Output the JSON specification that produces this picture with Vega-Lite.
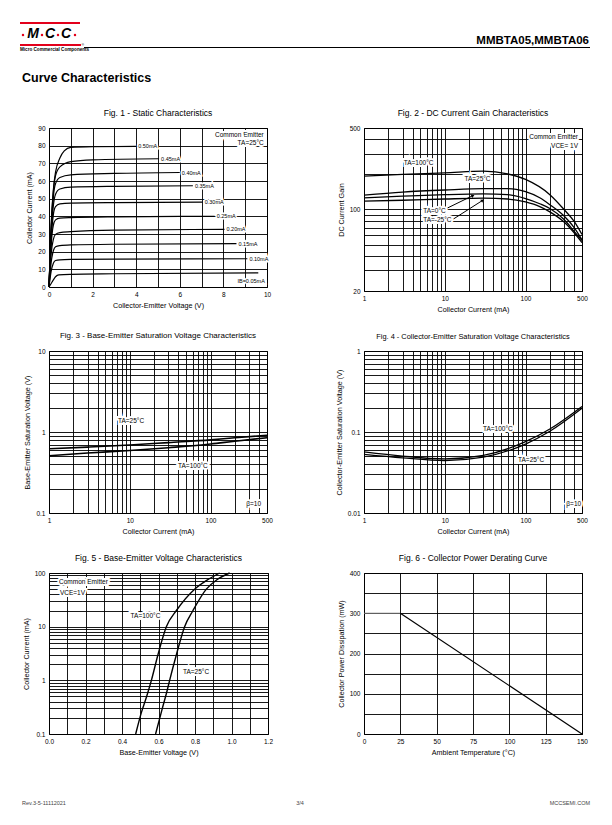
{
"$schema":"https://vega.github.io/schema/vega-lite/v6.json",
"background":"white",
"padding":0,
"columns":2,
"align":"each",
"spacing":{"row":60,"column":96},
"bounds":"flush",
"config":{
 "font":"Liberation Sans",
 "view":{"stroke":"#000","strokeWidth":1},
 "axis":{"grid":true,"gridColor":"#000","gridOpacity":1,"gridWidth":0.9,"domain":false,"ticks":false,"labelFontSize":6.5,"labelColor":"#000","labelPadding":4,"labelFlush":false,"labelOverlap":false,"titleFontSize":7.2,"titleFontWeight":"normal","titleColor":"#000","titlePadding":4},
 "title":{"fontSize":8.5,"fontWeight":"normal","color":"#000","offset":8,"anchor":"middle"},
 "text":{"color":"#000"}
},
"concat":[
 {
  "width":218,"height":68,"view":{"stroke":null},
  "data":{"values":[{}]},
  "layer":[
   {"mark":{"type":"rule","color":"#fff","opacity":0},"encoding":{"x":{"datum":0,"type":"quantitative","scale":{"domain":[49,267],"nice":false,"zero":false},"axis":null},"x2":{"datum":612},"y":{"datum":0,"type":"quantitative","scale":{"domain":[0,68],"reverse":true,"nice":false,"zero":false},"axis":null}}},
   {"mark":{"type":"rule","color":"#e3001b","strokeWidth":1.8},"encoding":{"x":{"datum":20,"type":"quantitative","scale":{"domain":[49,267],"nice":false,"zero":false},"axis":null},"x2":{"datum":80},"y":{"datum":23,"type":"quantitative","scale":{"domain":[0,68],"reverse":true,"nice":false,"zero":false},"axis":null}}},
   {"mark":{"type":"rule","color":"#e3001b","strokeWidth":1.8},"encoding":{"x":{"datum":20,"type":"quantitative","scale":{"domain":[49,267],"nice":false,"zero":false},"axis":null},"x2":{"datum":81},"y":{"datum":45,"type":"quantitative","scale":{"domain":[0,68],"reverse":true,"nice":false,"zero":false},"axis":null}}},
   {"mark":{"type":"text","fontSize":14,"fontWeight":"bold","fontStyle":"italic","align":"center","baseline":"middle","color":"#000"},"encoding":{"x":{"datum":33,"type":"quantitative","scale":{"domain":[49,267],"nice":false,"zero":false},"axis":null},"y":{"datum":34,"type":"quantitative","scale":{"domain":[0,68],"reverse":true,"nice":false,"zero":false},"axis":null},"text":{"value":"M"}}},
   {"mark":{"type":"text","fontSize":14,"fontWeight":"bold","fontStyle":"italic","align":"center","baseline":"middle","color":"#000"},"encoding":{"x":{"datum":50,"type":"quantitative","scale":{"domain":[49,267],"nice":false,"zero":false},"axis":null},"y":{"datum":34,"type":"quantitative","scale":{"domain":[0,68],"reverse":true,"nice":false,"zero":false},"axis":null},"text":{"value":"C"}}},
   {"mark":{"type":"text","fontSize":14,"fontWeight":"bold","fontStyle":"italic","align":"center","baseline":"middle","color":"#000"},"encoding":{"x":{"datum":66,"type":"quantitative","scale":{"domain":[49,267],"nice":false,"zero":false},"axis":null},"y":{"datum":34,"type":"quantitative","scale":{"domain":[0,68],"reverse":true,"nice":false,"zero":false},"axis":null},"text":{"value":"C"}}},
   {"mark":{"type":"circle","color":"#e3001b","size":6,"opacity":1},"encoding":{"x":{"datum":23,"type":"quantitative","scale":{"domain":[49,267],"nice":false,"zero":false},"axis":null},"y":{"datum":35,"type":"quantitative","scale":{"domain":[0,68],"reverse":true,"nice":false,"zero":false},"axis":null}}},
   {"mark":{"type":"circle","color":"#e3001b","size":6,"opacity":1},"encoding":{"x":{"datum":42,"type":"quantitative","scale":{"domain":[49,267],"nice":false,"zero":false},"axis":null},"y":{"datum":35,"type":"quantitative","scale":{"domain":[0,68],"reverse":true,"nice":false,"zero":false},"axis":null}}},
   {"mark":{"type":"circle","color":"#e3001b","size":6,"opacity":1},"encoding":{"x":{"datum":58,"type":"quantitative","scale":{"domain":[49,267],"nice":false,"zero":false},"axis":null},"y":{"datum":35,"type":"quantitative","scale":{"domain":[0,68],"reverse":true,"nice":false,"zero":false},"axis":null}}},
   {"mark":{"type":"circle","color":"#e3001b","size":6,"opacity":1},"encoding":{"x":{"datum":75,"type":"quantitative","scale":{"domain":[49,267],"nice":false,"zero":false},"axis":null},"y":{"datum":35,"type":"quantitative","scale":{"domain":[0,68],"reverse":true,"nice":false,"zero":false},"axis":null}}},
   {"mark":{"type":"text","fontSize":4.6,"fontWeight":"bold","align":"left","baseline":"middle","color":"#000"},"encoding":{"x":{"datum":20,"type":"quantitative","scale":{"domain":[49,267],"nice":false,"zero":false},"axis":null},"y":{"datum":49.5,"type":"quantitative","scale":{"domain":[0,68],"reverse":true,"nice":false,"zero":false},"axis":null},"text":{"value":"Micro Commercial Components"}}},
   {"mark":{"type":"text","fontSize":3.5,"align":"left","baseline":"middle","color":"#000"},"encoding":{"x":{"datum":81.5,"type":"quantitative","scale":{"domain":[49,267],"nice":false,"zero":false},"axis":null},"y":{"datum":45,"type":"quantitative","scale":{"domain":[0,68],"reverse":true,"nice":false,"zero":false},"axis":null},"text":{"value":"®"}}},
   {"mark":{"type":"rule","color":"#000","strokeWidth":1},"encoding":{"x":{"datum":84,"type":"quantitative","scale":{"domain":[49,267],"nice":false,"zero":false},"axis":null},"x2":{"datum":590},"y":{"datum":47.5,"type":"quantitative","scale":{"domain":[0,68],"reverse":true,"nice":false,"zero":false},"axis":null}}},
   {"mark":{"type":"text","fontSize":11.5,"fontWeight":"bold","align":"right","baseline":"middle","color":"#000"},"encoding":{"x":{"datum":589,"type":"quantitative","scale":{"domain":[49,267],"nice":false,"zero":false},"axis":null},"y":{"datum":41,"type":"quantitative","scale":{"domain":[0,68],"reverse":true,"nice":false,"zero":false},"axis":null},"text":{"value":"MMBTA05,MMBTA06"}}},
   {"mark":{"type":"text","fontSize":12.5,"fontWeight":"bold","align":"left","baseline":"middle","color":"#000"},"encoding":{"x":{"datum":22,"type":"quantitative","scale":{"domain":[49,267],"nice":false,"zero":false},"axis":null},"y":{"datum":78,"type":"quantitative","scale":{"domain":[0,68],"reverse":true,"nice":false,"zero":false},"axis":null},"text":{"value":"Curve Characteristics"}}}
  ]
 },
 {"width":218,"height":68,"view":{"stroke":null},"data":{"values":[]},"mark":"point"},
 {
  "width":218,"height":159,
  "title":"Fig. 1 - Static Characteristics",
  "data":{"values":[
   {"ib":"0.50mA","vce":0,"ic":0},{"ib":"0.50mA","vce":0.1,"ic":35},{"ib":"0.50mA","vce":0.2,"ic":55},{"ib":"0.50mA","vce":0.3,"ic":65},{"ib":"0.50mA","vce":0.5,"ic":73},{"ib":"0.50mA","vce":0.7,"ic":77},{"ib":"0.50mA","vce":1,"ic":79},{"ib":"0.50mA","vce":2,"ic":79.4},{"ib":"0.50mA","vce":4,"ic":79.6},
   {"ib":"0.45mA","vce":0,"ic":0},{"ib":"0.45mA","vce":0.1,"ic":34},{"ib":"0.45mA","vce":0.2,"ic":54},{"ib":"0.45mA","vce":0.3,"ic":63},{"ib":"0.45mA","vce":0.5,"ic":68},{"ib":"0.45mA","vce":1,"ic":71},{"ib":"0.45mA","vce":2,"ic":72},{"ib":"0.45mA","vce":5.05,"ic":72.6},
   {"ib":"0.40mA","vce":0,"ic":0},{"ib":"0.40mA","vce":0.1,"ic":32},{"ib":"0.40mA","vce":0.2,"ic":51},{"ib":"0.40mA","vce":0.3,"ic":58.5},{"ib":"0.40mA","vce":0.5,"ic":62},{"ib":"0.40mA","vce":1,"ic":63.5},{"ib":"0.40mA","vce":3,"ic":64.3},{"ib":"0.40mA","vce":6,"ic":64.8},
   {"ib":"0.35mA","vce":0,"ic":0},{"ib":"0.35mA","vce":0.1,"ic":30},{"ib":"0.35mA","vce":0.2,"ic":46},{"ib":"0.35mA","vce":0.3,"ic":52.5},{"ib":"0.35mA","vce":0.5,"ic":55.5},{"ib":"0.35mA","vce":1,"ic":56.5},{"ib":"0.35mA","vce":3,"ic":57},{"ib":"0.35mA","vce":6.6,"ic":57.3},
   {"ib":"0.30mA","vce":0,"ic":0},{"ib":"0.30mA","vce":0.1,"ic":27},{"ib":"0.30mA","vce":0.2,"ic":41},{"ib":"0.30mA","vce":0.3,"ic":45.5},{"ib":"0.30mA","vce":0.5,"ic":47},{"ib":"0.30mA","vce":1,"ic":47.5},{"ib":"0.30mA","vce":3,"ic":47.8},{"ib":"0.30mA","vce":7.05,"ic":48},
   {"ib":"0.25mA","vce":0,"ic":0},{"ib":"0.25mA","vce":0.1,"ic":24},{"ib":"0.25mA","vce":0.2,"ic":35},{"ib":"0.25mA","vce":0.3,"ic":38},{"ib":"0.25mA","vce":0.5,"ic":39},{"ib":"0.25mA","vce":1,"ic":39.3},{"ib":"0.25mA","vce":3,"ic":39.7},{"ib":"0.25mA","vce":7.6,"ic":40},
   {"ib":"0.20mA","vce":0,"ic":0},{"ib":"0.20mA","vce":0.1,"ic":19},{"ib":"0.20mA","vce":0.2,"ic":27},{"ib":"0.20mA","vce":0.3,"ic":29.8},{"ib":"0.20mA","vce":0.5,"ic":30.8},{"ib":"0.20mA","vce":1,"ic":31.3},{"ib":"0.20mA","vce":3,"ic":32.2},{"ib":"0.20mA","vce":8.05,"ic":32.6},
   {"ib":"0.15mA","vce":0,"ic":0},{"ib":"0.15mA","vce":0.1,"ic":14},{"ib":"0.15mA","vce":0.2,"ic":20.5},{"ib":"0.15mA","vce":0.3,"ic":22.8},{"ib":"0.15mA","vce":0.5,"ic":23.4},{"ib":"0.15mA","vce":1,"ic":23.8},{"ib":"0.15mA","vce":3,"ic":24.2},{"ib":"0.15mA","vce":8.6,"ic":24.5},
   {"ib":"0.10mA","vce":0,"ic":0},{"ib":"0.10mA","vce":0.1,"ic":9},{"ib":"0.10mA","vce":0.2,"ic":13.5},{"ib":"0.10mA","vce":0.3,"ic":15},{"ib":"0.10mA","vce":0.5,"ic":15.4},{"ib":"0.10mA","vce":1,"ic":15.6},{"ib":"0.10mA","vce":3,"ic":15.8},{"ib":"0.10mA","vce":9.1,"ic":16},
   {"ib":"0.05mA","vce":0,"ic":0},{"ib":"0.05mA","vce":0.1,"ic":2},{"ib":"0.05mA","vce":0.2,"ic":4},{"ib":"0.05mA","vce":0.3,"ic":5.8},{"ib":"0.05mA","vce":0.45,"ic":6.9},{"ib":"0.05mA","vce":1,"ic":7.2},{"ib":"0.05mA","vce":3,"ic":7.5},{"ib":"0.05mA","vce":9.6,"ic":8}
  ]},
  "layer":[
   {"mark":{"type":"line","color":"#000","strokeWidth":1.2,"interpolate":"monotone"},
    "encoding":{
     "x":{"field":"vce","type":"quantitative","scale":{"domain":[0,10],"nice":false},"axis":{"title":"Collector-Emitter Voltage (V)","format":"d","tickCount":11,"values":[0,1,2,3,4,5,6,7,8,9,10],"labelExpr":"datum.value % 2 == 0 ? datum.label : ''"}},
     "y":{"field":"ic","type":"quantitative","scale":{"domain":[0,90],"nice":false},"axis":{"title":"Collector Current (mA)","format":"d","tickCount":10,"values":[0,10,20,30,40,50,60,70,80,90]}},
     "detail":{"field":"ib"}}},
   {"transform":[{"filter":"datum.ib != '0.05mA'"},{"joinaggregate":[{"op":"max","field":"vce","as":"vmax"}],"groupby":["ib"]},{"filter":"datum.vce == datum.vmax"}],
    "encoding":{"x":{"field":"vce","type":"quantitative"},"y":{"field":"ic","type":"quantitative"},"text":{"field":"ib"}},
    "layer":[
     {"mark":{"type":"text","align":"left","baseline":"middle","dx":2,"fontSize":5.5,"stroke":"#fff","strokeWidth":3,"color":"#000"}},
     {"mark":{"type":"text","align":"left","baseline":"middle","dx":2,"fontSize":5.5,"color":"#000"}}]},
   {"data":{"values":[{}]},"encoding":{"x":{"datum":9.9,"type":"quantitative"},"y":{"datum":3.6,"type":"quantitative"},"text":{"value":"IB=0.05mA"}},
    "layer":[{"mark":{"type":"text","align":"right","baseline":"middle","fontSize":5.5,"stroke":"#fff","strokeWidth":3,"color":"#000"}},{"mark":{"type":"text","align":"right","baseline":"middle","fontSize":5.5,"color":"#000"}}]},
   {"data":{"values":[{}]},"encoding":{"x":{"datum":9.85,"type":"quantitative"},"y":{"datum":86.3,"type":"quantitative"},"text":{"value":"Common Emitter"}},
    "layer":[{"mark":{"type":"text","align":"right","baseline":"middle","fontSize":6.5,"stroke":"#fff","strokeWidth":4,"color":"#000"}},{"mark":{"type":"text","align":"right","baseline":"middle","fontSize":6.5,"color":"#000"}}]},
   {"data":{"values":[{}]},"encoding":{"x":{"datum":9.85,"type":"quantitative"},"y":{"datum":81.3,"type":"quantitative"},"text":{"value":"TA=25°C"}},
    "layer":[{"mark":{"type":"text","align":"right","baseline":"middle","fontSize":6.5,"stroke":"#fff","strokeWidth":4,"color":"#000"}},{"mark":{"type":"text","align":"right","baseline":"middle","fontSize":6.5,"color":"#000"}}]}
  ]
 },
 {
  "width":218,"height":163,
  "title":"Fig. 2 - DC Current Gain Characteristics",
  "data":{"values":[
   {"t":"100°C","ic":1,"h":193},{"t":"100°C","ic":3,"h":200},{"t":"100°C","ic":10,"h":206},{"t":"100°C","ic":30,"h":213},{"t":"100°C","ic":60,"h":202},{"t":"100°C","ic":100,"h":181},{"t":"100°C","ic":200,"h":134},{"t":"100°C","ic":300,"h":100},{"t":"100°C","ic":400,"h":79},{"t":"100°C","ic":500,"h":61},
   {"t":"25°C","ic":1,"h":133},{"t":"25°C","ic":3,"h":141},{"t":"25°C","ic":10,"h":147},{"t":"25°C","ic":30,"h":151},{"t":"25°C","ic":60,"h":151},{"t":"25°C","ic":100,"h":142},{"t":"25°C","ic":150,"h":126},{"t":"25°C","ic":200,"h":110},{"t":"25°C","ic":300,"h":88},{"t":"25°C","ic":400,"h":70},{"t":"25°C","ic":500,"h":55},
   {"t":"0°C","ic":1,"h":126},{"t":"0°C","ic":3,"h":130},{"t":"0°C","ic":10,"h":134},{"t":"0°C","ic":30,"h":136},{"t":"0°C","ic":60,"h":134},{"t":"0°C","ic":100,"h":124},{"t":"0°C","ic":150,"h":112},{"t":"0°C","ic":200,"h":102},{"t":"0°C","ic":300,"h":82},{"t":"0°C","ic":400,"h":65},{"t":"0°C","ic":500,"h":54},
   {"t":"-25°C","ic":1,"h":118},{"t":"-25°C","ic":3,"h":120},{"t":"-25°C","ic":10,"h":123},{"t":"-25°C","ic":30,"h":125},{"t":"-25°C","ic":60,"h":123},{"t":"-25°C","ic":100,"h":116},{"t":"-25°C","ic":150,"h":106},{"t":"-25°C","ic":200,"h":95.5},{"t":"-25°C","ic":300,"h":78},{"t":"-25°C","ic":400,"h":63},{"t":"-25°C","ic":500,"h":52}
  ]},
  "layer":[
   {"mark":{"type":"line","color":"#000","strokeWidth":1.3,"interpolate":"monotone"},
    "encoding":{
     "x":{"field":"ic","type":"quantitative","scale":{"type":"log","domain":[1,500],"nice":false},"axis":{"title":"Collector Current (mA)","format":"~g","values":[1,2,3,4,5,6,7,8,9,10,20,30,40,50,60,70,80,90,100,200,300,400,500],"labelExpr":"datum.value == 1 || datum.value == 10 || datum.value == 100 || datum.value == 500 ? datum.label : ''"}},
     "y":{"field":"h","type":"quantitative","scale":{"type":"log","domain":[20,500],"nice":false},"axis":{"title":"DC Current Gain","format":"~g","values":[20,30,40,50,60,70,80,90,100,200,300,400,500],"labelExpr":"datum.value == 20 || datum.value == 100 || datum.value == 500 ? datum.label : ''"}},
     "detail":{"field":"t"}}},
   {"data":{"values":[{}]},"mark":{"type":"rule","color":"#000","strokeWidth":1},"encoding":{"x":{"datum":10.8,"type":"quantitative"},"y":{"datum":103,"type":"quantitative"},"x2":{"datum":22},"y2":{"datum":131}}},
   {"data":{"values":[{}]},"mark":{"type":"rule","color":"#000","strokeWidth":1},"encoding":{"x":{"datum":12.5,"type":"quantitative"},"y":{"datum":82,"type":"quantitative"},"x2":{"datum":29},"y2":{"datum":119}}},
   {"data":{"values":[{}]},"mark":{"type":"point","shape":"triangle","filled":true,"color":"#000","opacity":1,"size":14,"angle":64},"encoding":{"x":{"datum":22,"type":"quantitative"},"y":{"datum":131,"type":"quantitative"}}},
   {"data":{"values":[{}]},"mark":{"type":"point","shape":"triangle","filled":true,"color":"#000","opacity":1,"size":14,"angle":58},"encoding":{"x":{"datum":29,"type":"quantitative"},"y":{"datum":119,"type":"quantitative"}}},
   {"data":{"values":[{}]},"encoding":{"x":{"datum":3.1,"type":"quantitative"},"y":{"datum":251,"type":"quantitative"},"text":{"value":"TA=100°C"}},
    "layer":[{"mark":{"type":"text","align":"left","baseline":"middle","fontSize":6.5,"stroke":"#fff","strokeWidth":4,"color":"#000"}},{"mark":{"type":"text","align":"left","baseline":"middle","fontSize":6.5,"color":"#000"}}]},
   {"data":{"values":[{}]},"encoding":{"x":{"datum":17.5,"type":"quantitative"},"y":{"datum":181,"type":"quantitative"},"text":{"value":"TA=25°C"}},
    "layer":[{"mark":{"type":"text","align":"left","baseline":"middle","fontSize":6.5,"stroke":"#fff","strokeWidth":4,"color":"#000"}},{"mark":{"type":"text","align":"left","baseline":"middle","fontSize":6.5,"color":"#000"}}]},
   {"data":{"values":[{}]},"encoding":{"x":{"datum":5.4,"type":"quantitative"},"y":{"datum":98,"type":"quantitative"},"text":{"value":"TA=0°C"}},
    "layer":[{"mark":{"type":"text","align":"left","baseline":"middle","fontSize":6.5,"stroke":"#fff","strokeWidth":4,"color":"#000"}},{"mark":{"type":"text","align":"left","baseline":"middle","fontSize":6.5,"color":"#000"}}]},
   {"data":{"values":[{}]},"encoding":{"x":{"datum":5.4,"type":"quantitative"},"y":{"datum":82,"type":"quantitative"},"text":{"value":"TA=-25°C"}},
    "layer":[{"mark":{"type":"text","align":"left","baseline":"middle","fontSize":6.5,"stroke":"#fff","strokeWidth":4,"color":"#000"}},{"mark":{"type":"text","align":"left","baseline":"middle","fontSize":6.5,"color":"#000"}}]},
   {"data":{"values":[{}]},"encoding":{"x":{"datum":446,"type":"quantitative"},"y":{"datum":416,"type":"quantitative"},"text":{"value":"Common Emitter"}},
    "layer":[{"mark":{"type":"text","align":"right","baseline":"middle","fontSize":6.5,"stroke":"#fff","strokeWidth":4,"color":"#000"}},{"mark":{"type":"text","align":"right","baseline":"middle","fontSize":6.5,"color":"#000"}}]},
   {"data":{"values":[{}]},"encoding":{"x":{"datum":446,"type":"quantitative"},"y":{"datum":348,"type":"quantitative"},"text":{"value":"VCE= 1V"}},
    "layer":[{"mark":{"type":"text","align":"right","baseline":"middle","fontSize":6.5,"stroke":"#fff","strokeWidth":4,"color":"#000"}},{"mark":{"type":"text","align":"right","baseline":"middle","fontSize":6.5,"color":"#000"}}]}
  ]
 },
 {
  "width":218,"height":162,
  "title":{"text":"Fig. 3 - Base-Emitter Saturation Voltage Characteristics","fontSize":8},
  "data":{"values":[
   {"t":"25°C","ic":1,"v":0.62},{"t":"25°C","ic":3,"v":0.65},{"t":"25°C","ic":10,"v":0.69},{"t":"25°C","ic":30,"v":0.74},{"t":"25°C","ic":100,"v":0.8},{"t":"25°C","ic":200,"v":0.85},{"t":"25°C","ic":500,"v":0.91},
   {"t":"100°C","ic":1,"v":0.51},{"t":"100°C","ic":3,"v":0.55},{"t":"100°C","ic":10,"v":0.59},{"t":"100°C","ic":30,"v":0.64},{"t":"100°C","ic":100,"v":0.71},{"t":"100°C","ic":200,"v":0.77},{"t":"100°C","ic":500,"v":0.85}
  ]},
  "layer":[
   {"mark":{"type":"line","color":"#000","strokeWidth":1.6,"interpolate":"monotone"},
    "encoding":{
     "x":{"field":"ic","type":"quantitative","scale":{"type":"log","domain":[1,500],"nice":false},"axis":{"title":"Collector Current (mA)","format":"~g","values":[1,2,3,4,5,6,7,8,9,10,20,30,40,50,60,70,80,90,100,200,300,400,500],"labelExpr":"datum.value == 1 || datum.value == 10 || datum.value == 100 || datum.value == 500 ? datum.label : ''"}},
     "y":{"field":"v","type":"quantitative","scale":{"type":"log","domain":[0.1,10],"nice":false},"axis":{"title":"Base-Emitter Saturation Voltage (V)","format":"~g","values":[0.1,0.2,0.3,0.4,0.5,0.6,0.7,0.8,0.9,1,2,3,4,5,6,7,8,9,10],"labelExpr":"datum.value == 0.1 || datum.value == 1 || datum.value == 10 ? datum.label : ''"}},
     "detail":{"field":"t"}}},
   {"data":{"values":[{}]},"encoding":{"x":{"datum":7.15,"type":"quantitative"},"y":{"datum":1.37,"type":"quantitative"},"text":{"value":"TA=25°C"}},
    "layer":[{"mark":{"type":"text","align":"left","baseline":"middle","fontSize":6.5,"stroke":"#fff","strokeWidth":4,"color":"#000"}},{"mark":{"type":"text","align":"left","baseline":"middle","fontSize":6.5,"color":"#000"}}]},
   {"data":{"values":[{}]},"encoding":{"x":{"datum":39.6,"type":"quantitative"},"y":{"datum":0.377,"type":"quantitative"},"text":{"value":"TA=100°C"}},
    "layer":[{"mark":{"type":"text","align":"left","baseline":"middle","fontSize":6.5,"stroke":"#fff","strokeWidth":4,"color":"#000"}},{"mark":{"type":"text","align":"left","baseline":"middle","fontSize":6.5,"color":"#000"}}]},
   {"data":{"values":[{}]},"encoding":{"x":{"datum":277,"type":"quantitative"},"y":{"datum":0.128,"type":"quantitative"},"text":{"value":"β=10"}},
    "layer":[{"mark":{"type":"text","align":"left","baseline":"middle","fontSize":6.5,"stroke":"#fff","strokeWidth":4,"color":"#000"}},{"mark":{"type":"text","align":"left","baseline":"middle","fontSize":6.5,"color":"#000"}}]}
  ]
 },
 {
  "width":218,"height":162,
  "title":{"text":"Fig. 4 - Collector-Emitter Saturation Voltage Characteristics","fontSize":7.4},
  "data":{"values":[
   {"t":"100°C","ic":1,"v":0.057},{"t":"100°C","ic":3,"v":0.0505},{"t":"100°C","ic":10,"v":0.0465},{"t":"100°C","ic":30,"v":0.0515},{"t":"100°C","ic":100,"v":0.076},{"t":"100°C","ic":200,"v":0.109},{"t":"100°C","ic":500,"v":0.207},
   {"t":"25°C","ic":1,"v":0.053},{"t":"25°C","ic":3,"v":0.048},{"t":"25°C","ic":10,"v":0.0445},{"t":"25°C","ic":30,"v":0.049},{"t":"25°C","ic":100,"v":0.071},{"t":"25°C","ic":200,"v":0.102},{"t":"25°C","ic":500,"v":0.196}
  ]},
  "layer":[
   {"mark":{"type":"line","color":"#000","strokeWidth":1.3,"interpolate":"monotone"},
    "encoding":{
     "x":{"field":"ic","type":"quantitative","scale":{"type":"log","domain":[1,500],"nice":false},"axis":{"title":"Collector Current (mA)","format":"~g","values":[1,2,3,4,5,6,7,8,9,10,20,30,40,50,60,70,80,90,100,200,300,400,500],"labelExpr":"datum.value == 1 || datum.value == 10 || datum.value == 100 || datum.value == 500 ? datum.label : ''"}},
     "y":{"field":"v","type":"quantitative","scale":{"type":"log","domain":[0.01,1],"nice":false},"axis":{"title":"Collector-Emitter Saturation Voltage (V)","format":"~g","values":[0.01,0.02,0.03,0.04,0.05,0.06,0.07,0.08,0.09,0.1,0.2,0.3,0.4,0.5,0.6,0.7,0.8,0.9,1],"labelExpr":"datum.value == 0.01 || datum.value == 0.1 || datum.value == 1 ? datum.label : ''"}},
     "detail":{"field":"t"}}},
   {"data":{"values":[{}]},"encoding":{"x":{"datum":29.7,"type":"quantitative"},"y":{"datum":0.11,"type":"quantitative"},"text":{"value":"TA=100°C"}},
    "layer":[{"mark":{"type":"text","align":"left","baseline":"middle","fontSize":6.5,"stroke":"#fff","strokeWidth":4,"color":"#000"}},{"mark":{"type":"text","align":"left","baseline":"middle","fontSize":6.5,"color":"#000"}}]},
   {"data":{"values":[{}]},"encoding":{"x":{"datum":80.7,"type":"quantitative"},"y":{"datum":0.045,"type":"quantitative"},"text":{"value":"TA=25°C"}},
    "layer":[{"mark":{"type":"text","align":"left","baseline":"middle","fontSize":6.5,"stroke":"#fff","strokeWidth":4,"color":"#000"}},{"mark":{"type":"text","align":"left","baseline":"middle","fontSize":6.5,"color":"#000"}}]},
   {"data":{"values":[{}]},"encoding":{"x":{"datum":320,"type":"quantitative"},"y":{"datum":0.0128,"type":"quantitative"},"text":{"value":"β=10"}},
    "layer":[{"mark":{"type":"text","align":"left","baseline":"middle","fontSize":6.5,"stroke":"#fff","strokeWidth":4,"color":"#000"}},{"mark":{"type":"text","align":"left","baseline":"middle","fontSize":6.5,"color":"#000"}}]}
  ]
 },
 {
  "width":219,"height":161,
  "title":"Fig. 5 - Base-Emitter Voltage Characteristics",
  "data":{"values":[
   {"t":"100°C","vbe":0.475,"ic":0.1},{"t":"100°C","vbe":0.506,"ic":0.25},{"t":"100°C","vbe":0.535,"ic":0.5},{"t":"100°C","vbe":0.561,"ic":1},{"t":"100°C","vbe":0.597,"ic":3},{"t":"100°C","vbe":0.643,"ic":10},{"t":"100°C","vbe":0.698,"ic":20},{"t":"100°C","vbe":0.798,"ic":50},{"t":"100°C","vbe":0.862,"ic":72},{"t":"100°C","vbe":0.935,"ic":100},
   {"t":"25°C","vbe":0.584,"ic":0.1},{"t":"25°C","vbe":0.621,"ic":0.3},{"t":"25°C","vbe":0.645,"ic":0.6},{"t":"25°C","vbe":0.661,"ic":1},{"t":"25°C","vbe":0.698,"ic":3},{"t":"25°C","vbe":0.743,"ic":10},{"t":"25°C","vbe":0.789,"ic":20},{"t":"25°C","vbe":0.862,"ic":50},{"t":"25°C","vbe":0.92,"ic":75},{"t":"25°C","vbe":0.99,"ic":100}
  ]},
  "layer":[
   {"mark":{"type":"line","color":"#000","strokeWidth":1.4,"interpolate":"monotone"},
    "encoding":{
     "x":{"field":"vbe","type":"quantitative","scale":{"domain":[0,1.2],"nice":false},"axis":{"title":"Base-Emitter Voltage (V)","tickCount":13,"values":[0,0.1,0.2,0.3,0.4,0.5,0.6,0.7,0.8,0.9,1,1.1,1.2],"labelExpr":"round(datum.value * 10) % 2 == 0 ? format(datum.value, '.1f') : ''"}},
     "y":{"field":"ic","type":"quantitative","scale":{"type":"log","domain":[0.1,100],"nice":false},"axis":{"title":"Collector Current (mA)","format":"~g","values":[0.1,0.2,0.3,0.4,0.5,0.6,0.7,0.8,0.9,1,2,3,4,5,6,7,8,9,10,20,30,40,50,60,70,80,90,100],"labelExpr":"datum.value == 0.1 || datum.value == 1 || datum.value == 10 || datum.value == 100 ? datum.label : ''"}},
     "detail":{"field":"t"}}},
   {"data":{"values":[{}]},"encoding":{"x":{"datum":0.447,"type":"quantitative"},"y":{"datum":16,"type":"quantitative"},"text":{"value":"TA=100°C"}},
    "layer":[{"mark":{"type":"text","align":"left","baseline":"middle","fontSize":6.5,"stroke":"#fff","strokeWidth":4,"color":"#000"}},{"mark":{"type":"text","align":"left","baseline":"middle","fontSize":6.5,"color":"#000"}}]},
   {"data":{"values":[{}]},"encoding":{"x":{"datum":0.734,"type":"quantitative"},"y":{"datum":1.45,"type":"quantitative"},"text":{"value":"TA=25°C"}},
    "layer":[{"mark":{"type":"text","align":"left","baseline":"middle","fontSize":6.5,"stroke":"#fff","strokeWidth":4,"color":"#000"}},{"mark":{"type":"text","align":"left","baseline":"middle","fontSize":6.5,"color":"#000"}}]},
   {"data":{"values":[{}]},"encoding":{"x":{"datum":0.055,"type":"quantitative"},"y":{"datum":68,"type":"quantitative"},"text":{"value":"Common Emitter"}},
    "layer":[{"mark":{"type":"text","align":"left","baseline":"middle","fontSize":6.5,"stroke":"#fff","strokeWidth":4,"color":"#000"}},{"mark":{"type":"text","align":"left","baseline":"middle","fontSize":6.5,"color":"#000"}}]},
   {"data":{"values":[{}]},"encoding":{"x":{"datum":0.06,"type":"quantitative"},"y":{"datum":43,"type":"quantitative"},"text":{"value":"VCE=1V"}},
    "layer":[{"mark":{"type":"text","align":"left","baseline":"middle","fontSize":6.5,"stroke":"#fff","strokeWidth":4,"color":"#000"}},{"mark":{"type":"text","align":"left","baseline":"middle","fontSize":6.5,"color":"#000"}}]}
  ]
 },
 {
  "width":218,"height":161,
  "title":"Fig. 6 - Collector Power Derating Curve",
  "data":{"values":[{"t":0,"p":300},{"t":25,"p":300},{"t":150,"p":0}]},
  "layer":[
   {"transform":[{"filter":"datum.t <= 25"}],
    "mark":{"type":"line","color":"#777","strokeWidth":1},
    "encoding":{
     "x":{"field":"t","type":"quantitative","scale":{"domain":[0,150],"nice":false},"axis":{"title":"Ambient Temperature (°C)","format":"d","tickCount":7,"values":[0,25,50,75,100,125,150]}},
     "y":{"field":"p","type":"quantitative","scale":{"domain":[0,400],"nice":false},"axis":{"title":"Collector Power Dissipation  (mW)","format":"d","tickCount":9,"values":[0,50,100,150,200,250,300,350,400],"labelExpr":"datum.value % 100 == 0 ? datum.label : ''"}}}},
   {"transform":[{"filter":"datum.t >= 25"}],
    "mark":{"type":"line","color":"#000","strokeWidth":1.2},
    "encoding":{"x":{"field":"t","type":"quantitative"},"y":{"field":"p","type":"quantitative"}}}
  ]
 },
 {
  "width":218,"height":31,"view":{"stroke":null},
  "data":{"values":[{}]},
  "layer":[
   {"mark":{"type":"text","fontSize":5.5,"align":"left","baseline":"middle","color":"#444"},"encoding":{"x":{"datum":22,"type":"quantitative","scale":{"domain":[49,267],"nice":false,"zero":false},"axis":null},"y":{"datum":803,"type":"quantitative","scale":{"domain":[794,825],"reverse":true,"nice":false,"zero":false},"axis":null},"text":{"value":"Rev.3-5-11112021"}}},
   {"mark":{"type":"text","fontSize":5.5,"align":"center","baseline":"middle","color":"#444"},"encoding":{"x":{"datum":300,"type":"quantitative","scale":{"domain":[49,267],"nice":false,"zero":false},"axis":null},"y":{"datum":803,"type":"quantitative","scale":{"domain":[794,825],"reverse":true,"nice":false,"zero":false},"axis":null},"text":{"value":"3/4"}}},
   {"mark":{"type":"text","fontSize":5.5,"align":"right","baseline":"middle","color":"#444"},"encoding":{"x":{"datum":590,"type":"quantitative","scale":{"domain":[49,267],"nice":false,"zero":false},"axis":null},"y":{"datum":803,"type":"quantitative","scale":{"domain":[794,825],"reverse":true,"nice":false,"zero":false},"axis":null},"text":{"value":"MCCSEMI.COM"}}}
  ]
 },
 {"width":218,"height":31,"view":{"stroke":null},"data":{"values":[]},"mark":"point"}
]
}
